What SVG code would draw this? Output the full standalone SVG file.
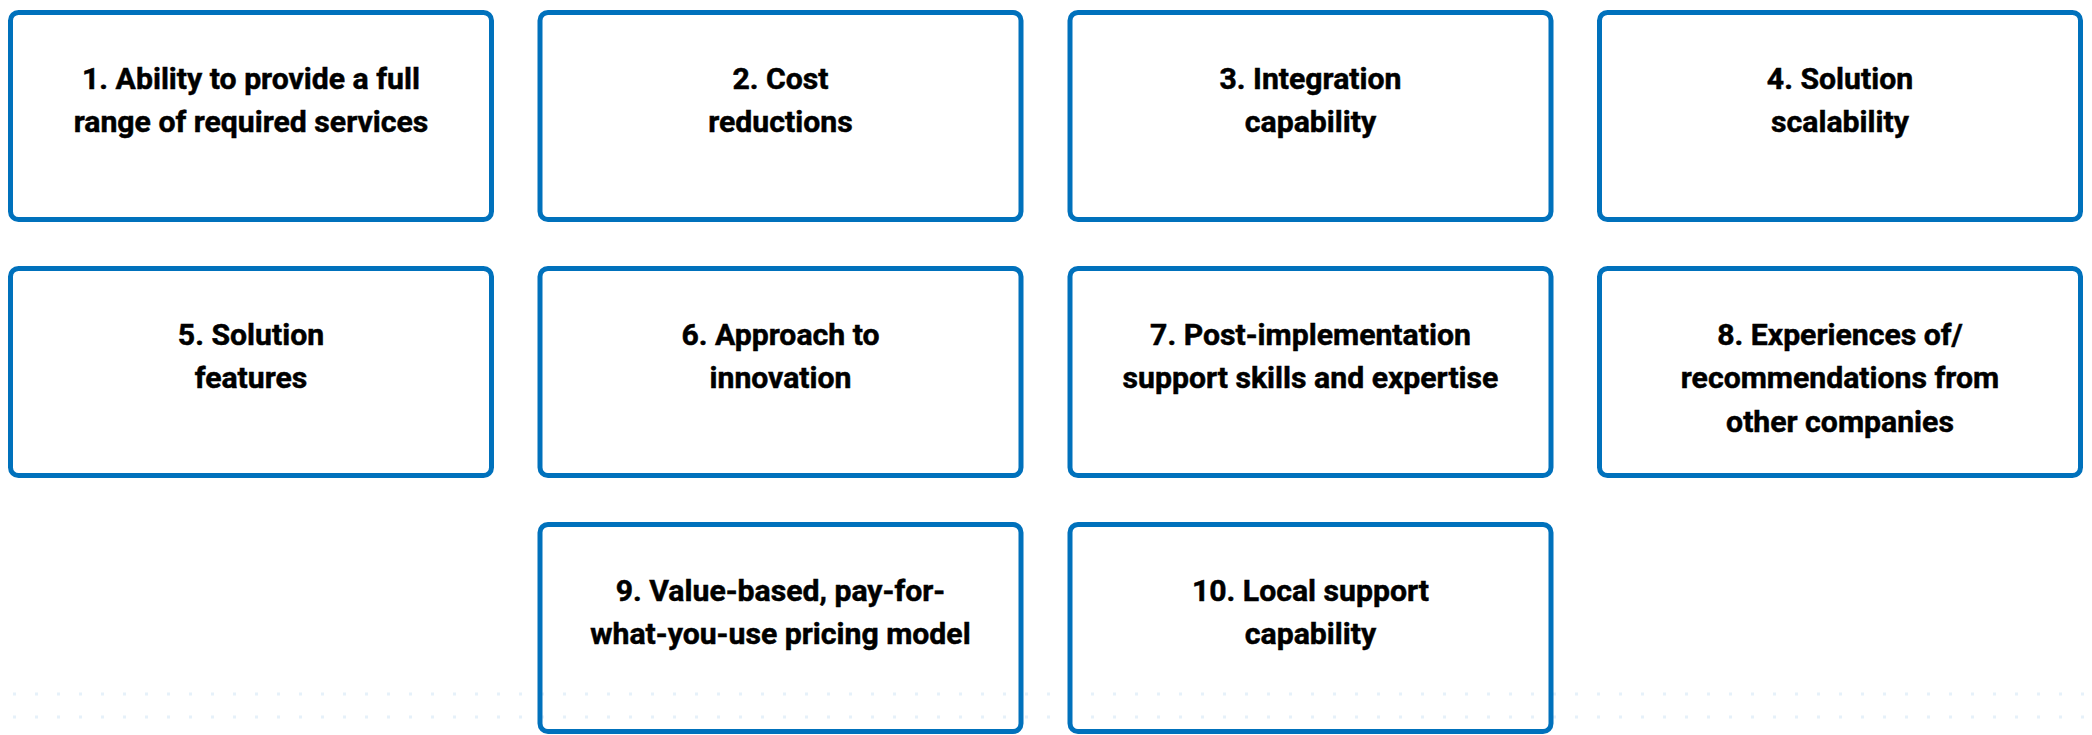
<svg xmlns="http://www.w3.org/2000/svg" width="2092" height="735" viewBox="0 0 2092 735">
<style>
.box{fill:none;stroke:#0071bc;stroke-width:5}
.lbl{font-family:Roboto,"Liberation Sans",sans-serif;font-weight:700;font-size:30.2px;fill:#000;stroke:#000;stroke-width:0.5;text-anchor:middle}
.dots{stroke:#e6f1fa;stroke-width:3;stroke-dasharray:3 19}
</style>
<rect width="2092" height="735" fill="#ffffff"/>
<g id="background">
<line class="dots" x1="13" y1="694" x2="2092" y2="694"/>
<line class="dots" x1="13" y1="717" x2="2092" y2="717"/>
</g>
<g id="node1"><rect class="box" x="10.5" y="12.5" width="481" height="207" rx="8"/>
<text class="lbl" x="251" y="88.5"><tspan x="251">1. Ability to provide a full</tspan><tspan x="251" dy="43.5">range of required services</tspan></text></g>
<g id="node2"><rect class="box" x="540" y="12.5" width="481" height="207" rx="8"/>
<text class="lbl" x="780.5" y="88.5"><tspan x="780.5">2. Cost</tspan><tspan x="780.5" dy="43.5">reductions</tspan></text></g>
<g id="node3"><rect class="box" x="1070" y="12.5" width="481" height="207" rx="8"/>
<text class="lbl" x="1310.5" y="88.5"><tspan x="1310.5">3. Integration</tspan><tspan x="1310.5" dy="43.5">capability</tspan></text></g>
<g id="node4"><rect class="box" x="1599.5" y="12.5" width="481" height="207" rx="8"/>
<text class="lbl" x="1840" y="88.5"><tspan x="1840">4. Solution</tspan><tspan x="1840" dy="43.5">scalability</tspan></text></g>
<g id="node5"><rect class="box" x="10.5" y="268.5" width="481" height="207" rx="8"/>
<text class="lbl" x="251" y="344.5"><tspan x="251">5. Solution</tspan><tspan x="251" dy="43.5">features</tspan></text></g>
<g id="node6"><rect class="box" x="540" y="268.5" width="481" height="207" rx="8"/>
<text class="lbl" x="780.5" y="344.5"><tspan x="780.5">6. Approach to</tspan><tspan x="780.5" dy="43.5">innovation</tspan></text></g>
<g id="node7"><rect class="box" x="1070" y="268.5" width="481" height="207" rx="8"/>
<text class="lbl" x="1310.5" y="344.5"><tspan x="1310.5">7. Post-implementation</tspan><tspan x="1310.5" dy="43.5">support skills and expertise</tspan></text></g>
<g id="node8"><rect class="box" x="1599.5" y="268.5" width="481" height="207" rx="8"/>
<text class="lbl" x="1840" y="344.5"><tspan x="1840">8. Experiences of/</tspan><tspan x="1840" dy="43.5">recommendations from</tspan><tspan x="1840" dy="43.5">other companies</tspan></text></g>
<g id="node9"><rect class="box" x="540" y="524.5" width="481" height="207" rx="8"/>
<text class="lbl" x="780.5" y="600.5"><tspan x="780.5">9. Value-based, pay-for-</tspan><tspan x="780.5" dy="43.5">what-you-use pricing model</tspan></text></g>
<g id="node10"><rect class="box" x="1070" y="524.5" width="481" height="207" rx="8"/>
<text class="lbl" x="1310.5" y="600.5"><tspan x="1310.5">10. Local support</tspan><tspan x="1310.5" dy="43.5">capability</tspan></text></g>
<g id="connectors"/>
</svg>
